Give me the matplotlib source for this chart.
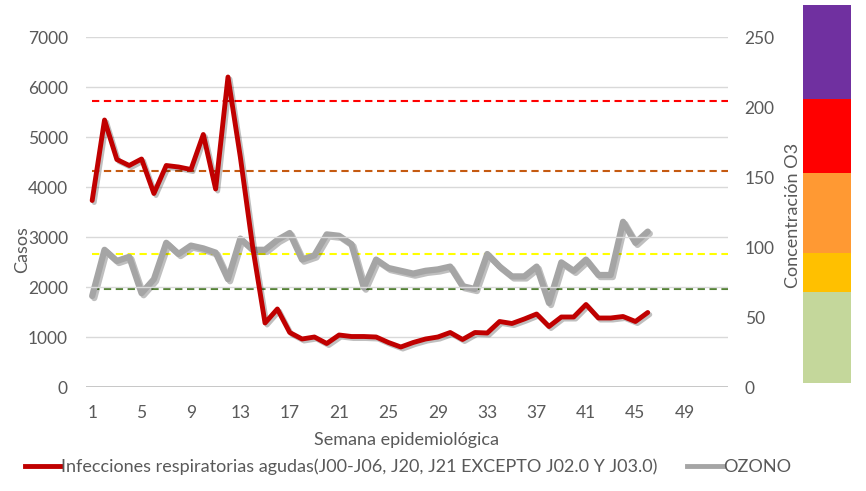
import numpy as np
import matplotlib
matplotlib.use("Agg")
import matplotlib.pyplot as plt
import matplotlib.patheffects as pe
from matplotlib.lines import Line2D

plt.rcParams['font.family'] = ['Lato', 'DejaVu Sans']

# epidemiological weeks
weeks = list(range(1, 47))

# acute respiratory infections (cases, left axis)
casos = [3730, 5340, 4550, 4430, 4560, 3870, 4430, 4400, 4350, 5050,
         3960, 6200, 4600, 2800, 1280, 1560, 1090, 960, 1000, 870,
         1040, 1010, 1010, 1000, 890, 800, 890, 960, 1000, 1090,
         950, 1090, 1080, 1310, 1270, 1360, 1460, 1210, 1400, 1400,
         1650, 1380, 1380, 1410, 1310, 1490]

# ozone concentration (right axis)
ozono = [65, 98, 90, 93, 67, 77, 103, 95, 101, 99,
         96, 77, 106, 98, 98, 105, 110, 91, 94, 109,
         108, 102, 71, 91, 85, 83, 81, 83, 84, 86,
         72, 70, 95, 86, 79, 79, 86, 60, 89, 83,
         91, 80, 80, 118, 103, 111]

# ozone thresholds (dashed reference lines)
umbrales = [70, 95, 154, 204]
umbral_colors = ['#548235', '#FFFF00', '#C55A11', '#FF0000']

# colour scale on the right
banda_limites = [0, 70, 100, 161, 218, 290]
banda_colors = ['#C4D79B', '#FFC000', '#FF9933', '#FF0000', '#7030A0']

xticks = list(range(1, 50, 4))

W, H = 866, 491
fig = plt.figure(figsize=(W / 100, H / 100), dpi=100)
ax = fig.add_axes([86 / W, 1 - 387 / H, 642 / W, 350 / H])
ax2 = ax.twinx()

txt = '#595959'
grid_c = '#D9D9D9'

ax.set_xlim(0.5, 52.5)
ax.set_ylim(0, 7000)
ax.set_yticks(range(0, 7001, 1000))
ax.set_xticks(xticks)
ax2.set_ylim(0, 250)
ax2.set_yticks(range(0, 251, 50))

for a in (ax, ax2):
    for s in a.spines.values():
        s.set_visible(False)
ax.grid(axis='y', color=grid_c, linewidth=1)
ax.axhline(0, color='#BFBFBF', linewidth=1.2)
ax.tick_params(axis='y', length=0, pad=13, labelsize=12.5, labelcolor=txt)
ax.tick_params(axis='x', length=0, pad=13, labelsize=12.5, labelcolor=txt)
ax2.tick_params(axis='y', length=0, pad=12, labelsize=12.5, labelcolor=txt)

shadow = [pe.SimpleLineShadow(offset=(1.5, -1.5), alpha=0.25, shadow_color='k'), pe.Normal()]

for u, c in zip(umbrales, umbral_colors):
    ax2.hlines(u, 1, 52.5, colors=c, linestyles=(0, (3.5, 2.2)), linewidth=1.5, zorder=2)

ax2.plot(weeks, ozono, color='#A5A5A5', linewidth=4.5, solid_joinstyle='round',
         solid_capstyle='round', path_effects=shadow, zorder=3)
ax.plot(weeks, casos, color='#C00000', linewidth=3.5, solid_joinstyle='round',
        solid_capstyle='round', path_effects=shadow, zorder=4)
ax.set_zorder(ax2.get_zorder() + 1)
ax.patch.set_visible(False)

fig.text(22 / W, 1 - 250 / H, 'Casos', rotation=90, ha='center', va='center',
         fontsize=13, color=txt)
fig.text(407 / W, 1 - 440 / H, 'Semana epidemiológica', ha='center', va='center',
         fontsize=13, color=txt)
fig.text(793 / W, 1 - 215 / H, 'Concentración O3', rotation=90, ha='center', va='center',
         fontsize=13, color=txt)

h_cas = Line2D([], [], color='#C00000', linewidth=3.5)
h_oz = Line2D([], [], color='#A5A5A5', linewidth=3.5)
fig.legend([h_cas, h_oz],
           ['Infecciones respiratorias agudas(J00-J06, J20, J21 EXCEPTO J02.0 Y J03.0)', 'OZONO'],
           loc='center', bbox_to_anchor=(408 / W, 1 - 467 / H), ncol=2, frameon=False,
           fontsize=13, labelcolor=txt, handlelength=2.0, handletextpad=0.0,
           columnspacing=1.6)

# colour bar for ozone categories
cax = fig.add_axes([803 / W, 1 - 383 / H, 48 / W, 378 / H])
for lo, hi, c in zip(banda_limites[:-1], banda_limites[1:], banda_colors):
    cax.bar(0, hi - lo, bottom=lo, width=1, color=c)
cax.set_xlim(-0.5, 0.5)
cax.set_ylim(banda_limites[0], banda_limites[-1])
cax.axis('off')

fig.savefig('out.png', dpi=100)
